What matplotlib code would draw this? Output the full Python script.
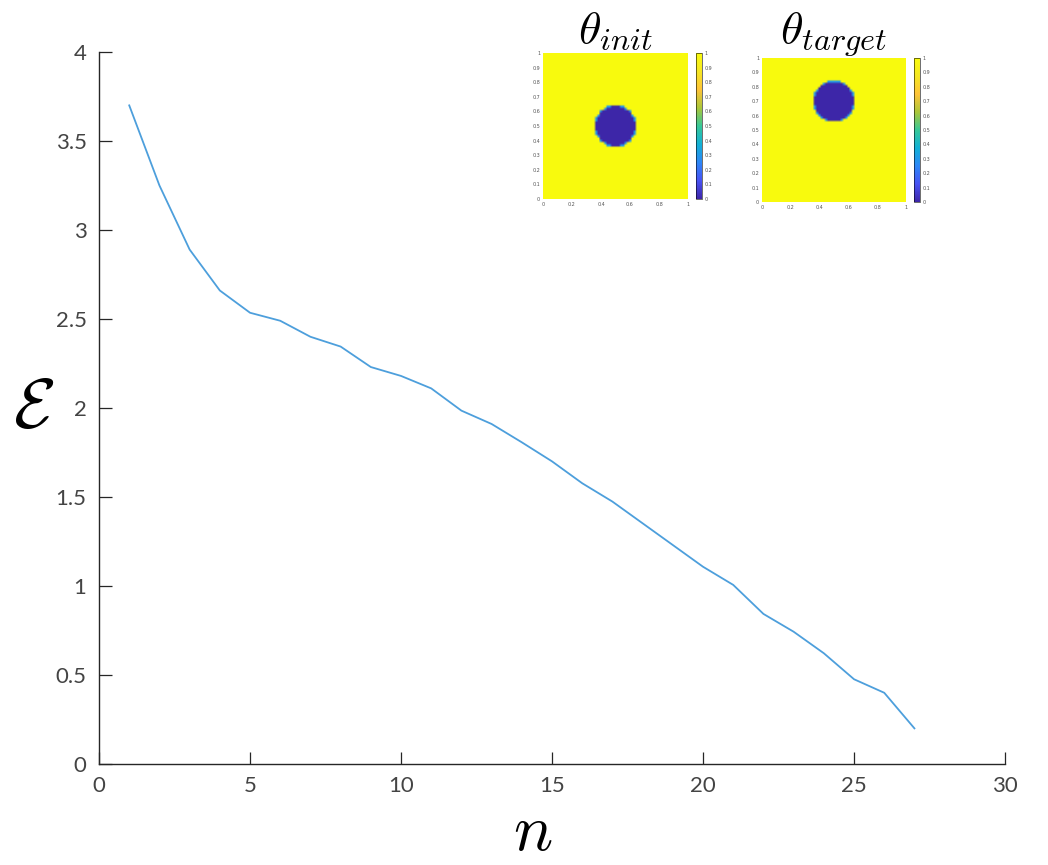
import numpy as np
import matplotlib
matplotlib.use("Agg")
import matplotlib.pyplot as plt
from matplotlib.colors import LinearSegmentedColormap

# energy per iteration
n = np.arange(1, 28)
energy = [3.70, 3.25, 2.89, 2.66, 2.535, 2.49, 2.40, 2.345, 2.23, 2.18,
          2.11, 1.985, 1.91, 1.807, 1.70, 1.577, 1.474, 1.352, 1.23, 1.108,
          1.006, 0.843, 0.743, 0.622, 0.476, 0.40, 0.20]

# inset fields: circle of theta=0 in a field of 1
grid_n = 64
init_center = (0.5, 0.5)
target_center = (0.5, 0.7)
radius = 0.145

parula = LinearSegmentedColormap.from_list("parula", [
    (0.2422, 0.1504, 0.6603), (0.2810, 0.3228, 0.9579), (0.1786, 0.5289, 0.9682),
    (0.0689, 0.6948, 0.8394), (0.2161, 0.7843, 0.5923), (0.6720, 0.7793, 0.2227),
    (0.9970, 0.7659, 0.2199), (0.9629, 0.9028, 0.1359), (0.9763, 0.9831, 0.0538)])

plt.rcParams["mathtext.fontset"] = "cm"

fig = plt.figure(figsize=(10.48, 8.65), dpi=100)
ax = fig.add_axes([0.0945, 0.1168, 0.8645, 0.8231])
ax.plot(n, energy, color="#4d9fdc", lw=1.3)
ax.set_xlim(0, 30)
ax.set_ylim(0, 4)
ax.set_xticks(range(0, 31, 5))
ax.set_yticks(np.arange(0, 4.01, 0.5))
ax.set_yticklabels(["0", "0.5", "1", "1.5", "2", "2.5", "3", "3.5", "4"])
for s in ["top", "right"]:
    ax.spines[s].set_visible(False)
for s in ["left", "bottom"]:
    ax.spines[s].set_color("#262626")
    ax.spines[s].set_linewidth(1.0)
ax.tick_params(direction="in", length=9, width=0.9, color="#262626",
               labelsize=16, labelcolor="#444444", pad=9)
for lbl in ax.get_xticklabels() + ax.get_yticklabels():
    lbl.set_fontfamily("Lato")
# x label placed as figure text so it sits at the bottom edge like the original
fig.text(0.508, 0.001, r"$n$", fontsize=47, ha="center", va="bottom")
ax.set_ylabel(r"$\mathcal{E}$", fontsize=50, rotation=0, labelpad=16, va="center")

xs = (np.arange(grid_n) + 0.5) / grid_n
X, Y = np.meshgrid(xs, xs)


def draw_inset(rect, cbrect, center, title):
    d = np.hypot(X - center[0], Y - center[1])
    field = np.where(d < radius, 0.0, 1.0)
    edge = np.abs(d - radius) < 0.6 / grid_n
    field[edge & (d < radius)] = 0.3
    iax = fig.add_axes(rect)
    im = iax.imshow(field, cmap=parula, vmin=0, vmax=1, origin="lower",
                    extent=[0, 1, 0, 1], interpolation="bilinear", aspect="auto")
    iax.set_xticks(np.arange(0, 1.01, 0.2))
    iax.set_xticklabels(["0", "0.2", "0.4", "0.6", "0.8", "1"])
    iax.set_yticks(np.arange(0, 1.01, 0.1))
    iax.set_yticklabels(["0", "0.1", "0.2", "0.3", "0.4", "0.5", "0.6", "0.7",
                         "0.8", "0.9", "1"])
    iax.tick_params(labelsize=3.5, labelcolor="#555555", length=0, pad=2)
    for s in iax.spines.values():
        s.set_visible(False)
    iax.set_title(title, fontsize=33, pad=1)
    cax = fig.add_axes(cbrect)
    cb = fig.colorbar(im, cax=cax)
    cb.set_ticks(np.arange(0, 1.01, 0.1))
    cb.set_ticklabels(["0", "0.1", "0.2", "0.3", "0.4", "0.5", "0.6", "0.7",
                       "0.8", "0.9", "1"])
    cax.tick_params(labelsize=3.5, labelcolor="#555555", length=0, pad=2)
    cb.outline.set_linewidth(0.4)


draw_inset([543 / 1048, 1 - 199 / 865, 145 / 1048, 146 / 865],
           [696 / 1048, 1 - 199 / 865, 6 / 1048, 146 / 865],
           init_center, r"$\theta_{init}$")
draw_inset([762 / 1048, 1 - 202 / 865, 144 / 1048, 144 / 865],
           [914 / 1048, 1 - 202 / 865, 6 / 1048, 144 / 865],
           target_center, r"$\theta_{target}$")

fig.savefig("out.png", dpi=100)
